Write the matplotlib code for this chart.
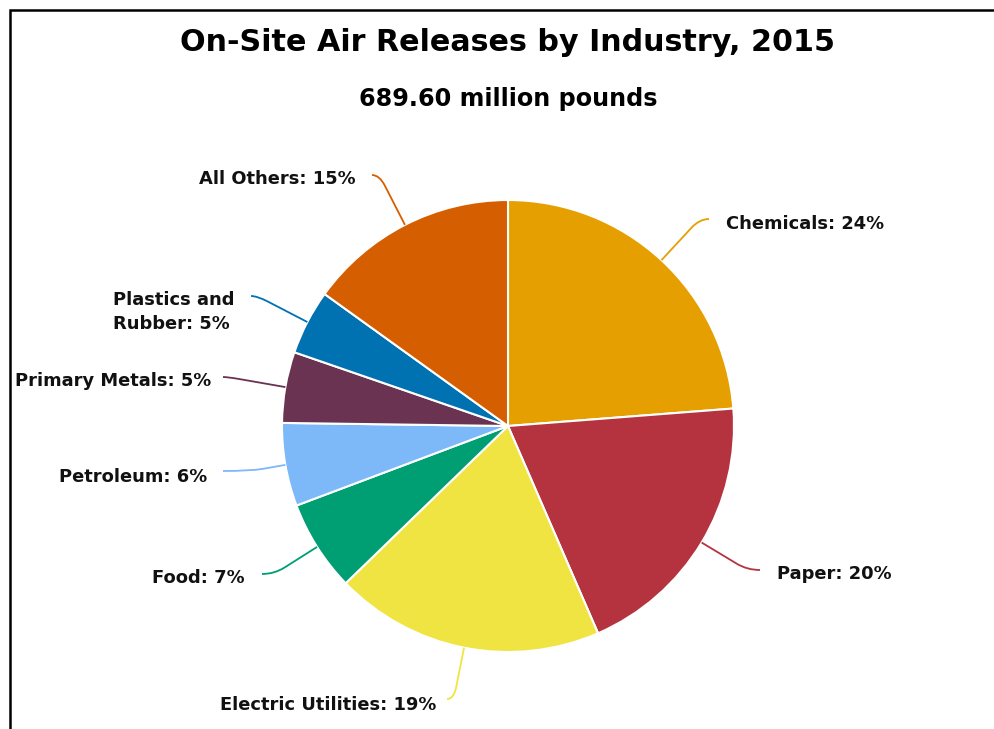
import numpy as np
import matplotlib.pyplot as plt
from matplotlib.path import Path
from matplotlib.patches import PathPatch

# data (million pounds; total 689.60)
industries = ["Chemicals", "Paper", "Electric Utilities", "Food", "Petroleum",
              "Primary Metals", "Plastics and\nRubber", "All Others"]
releases = [164, 136, 133, 45, 41, 35, 32, 104]
colors = ["#E69F00", "#B5333F", "#F0E442", "#009E73", "#7DB8F8",
          "#693351", "#0072B2", "#D55E00"]

title = "On-Site Air Releases by Industry, 2015"
subtitle = "689.60 million pounds"

W, H = 994, 729
# label layout in image pixels: text x, text y, alignment, connector end
label_pos = [
    (726, 224, "left", (709, 219)),
    (777, 574, "left", (760, 570)),
    (436, 705, "right", (447, 699)),
    (245, 578, "right", (262, 574)),
    (207, 477, "right", (223, 471)),
    (211, 381, "right", (223, 377)),
    (113, 312, "left", (251, 296)),
    (356, 179, "right", (372, 175)),
]

fig = plt.figure(figsize=(W / 100, H / 100), dpi=100)
ax = fig.add_axes([0, 0, 1, 1])

cx, cy, R = 508, H - 426, 226
wedges, _ = ax.pie(releases, colors=colors, startangle=90, counterclock=False,
                   center=(cx, cy), radius=R,
                   wedgeprops=dict(edgecolor="white", linewidth=1.5))
ax.set_xlim(0, W)
ax.set_ylim(0, H)
ax.set_aspect("equal")
ax.axis("off")

total = sum(releases)
for w, name, val, col, (tx, ty, ha, end) in zip(wedges, industries, releases, colors, label_pos):
    mid = np.deg2rad((w.theta1 + w.theta2) / 2)
    d = np.array([np.cos(mid), np.sin(mid)])
    s = np.array([cx, cy]) + R * d
    e = np.array([end[0], H - end[1]])
    # where the radial line meets the label's horizontal
    t = (e[1] - s[1]) / d[1] if abs(d[1]) > 1e-6 else 0
    c = s + t * d
    m = c - d * min(12, max(t, 0) * 0.4)
    path = Path([s, m, c, e], [Path.MOVETO, Path.LINETO, Path.CURVE3, Path.CURVE3])
    ax.add_patch(PathPatch(path, fill=False, edgecolor=col, linewidth=1.3))
    pct = round(val / total * 100)
    txt = f"{name}: {pct}%"
    ax.text(tx, H - ty, txt, ha=ha, va="center", fontsize=12.9, fontweight="bold",
            color="#111111", multialignment="left", linespacing=1.38)

ax.text(508, H - 42, title, ha="center", va="center", fontsize=21.7, fontweight="bold")
ax.text(508, H - 99, subtitle, ha="center", va="center", fontsize=17.2, fontweight="bold")

# chart frame (top and left edges visible)
ax.plot([10, 10, W], [0, H - 10, H - 10], color="black", linewidth=1.8,
        solid_joinstyle="miter", clip_on=False)

fig.savefig("out.png", dpi=100, facecolor="white")
